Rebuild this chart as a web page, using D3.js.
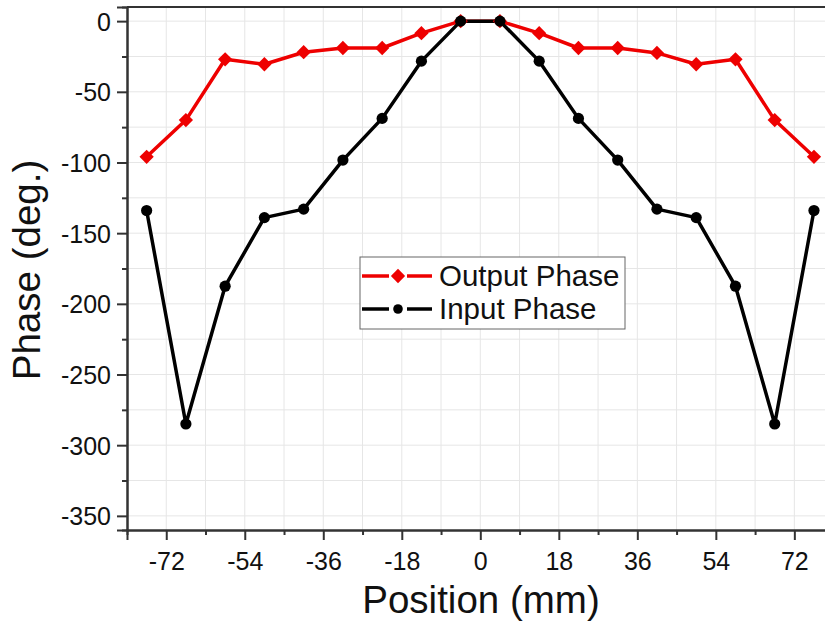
<!DOCTYPE html>
<html>
<head>
<meta charset="utf-8">
<script src="https://cdn.jsdelivr.net/npm/d3@7"></script>
<style>
  html, body { margin: 0; padding: 0; background: #fff; }
  svg { display: block; }
  text { font-family: "Liberation Sans", Arial, sans-serif; fill: #111; }
</style>
</head>
<body>
<svg id="chart" width="825" height="626"></svg>
<script>
// ---- data ----
const positions = [-76.5, -67.5, -58.5, -49.5, -40.5, -31.5, -22.5, -13.5, -4.5,
                   4.5, 13.5, 22.5, 31.5, 40.5, 49.5, 58.5, 67.5, 76.5];
const outputPhase = [-96, -70, -27, -30.5, -22, -19, -19, -8.5, 0,
                     0, -8.5, -19, -19, -22.5, -30.5, -27, -70, -96];
const inputPhase = [-134, -285, -187.5, -139, -133, -98.3, -68.8, -28.3, 0,
                    0, -28.3, -68.8, -98.3, -133, -139, -187.5, -285, -134];
const xTickLabels = [-72, -54, -36, -18, 0, 18, 36, 54, 72];
const xMinorTicks = [-63, -45, -27, -9, 9, 27, 45, 63];
const yTickLabels = [0, -50, -100, -150, -200, -250, -300, -350];
const yMinorTicks = [-25, -75, -125, -175, -225, -275, -325];
const seriesNames = ["Output Phase", "Input Phase"];

// ---- layout ----
const svg = d3.select("#chart");
const L = 127, R = 833.6, T = 7, B = 530;
const x = d3.scaleLinear().domain([-81, 81]).range([L, R]);
const y = d3.scaleLinear().domain([-360, 10]).range([B, T]);
const axisColor = "#333";
const fmt = d => String(d);

// grid
const gridX = d3.range(-72, 82, 9);
const gridY = d3.range(-350, 1, 25);
const grid = svg.append("g");
grid.selectAll("line.gx").data(gridX).join("line")
  .attr("x1", d => x(d)).attr("x2", d => x(d))
  .attr("y1", T).attr("y2", B)
  .attr("stroke", "#e6e6e6").attr("stroke-width", 1);
grid.selectAll("line.gy").data(gridY).join("line")
  .attr("x1", L).attr("x2", R)
  .attr("y1", d => y(d)).attr("y2", d => y(d))
  .attr("stroke", "#e6e6e6").attr("stroke-width", 1);

// top border
svg.append("line").attr("x1", L).attr("x2", R).attr("y1", T).attr("y2", T)
  .attr("stroke", axisColor).attr("stroke-width", 2);

// x axis
const xAxis = svg.append("g").attr("transform", `translate(0,${B})`)
  .call(d3.axisBottom(x).tickValues(xTickLabels).tickSize(10).tickPadding(12).tickFormat(fmt));
const xMinor = svg.append("g").attr("transform", `translate(0,${B})`)
  .call(d3.axisBottom(x).tickValues(xMinorTicks).tickSize(5).tickFormat(""));
// y axis
const yAxis = svg.append("g").attr("transform", `translate(${L},0)`)
  .call(d3.axisLeft(y).tickValues(yTickLabels).tickSize(10).tickPadding(6).tickFormat(fmt));
const yMinor = svg.append("g").attr("transform", `translate(${L},0)`)
  .call(d3.axisLeft(y).tickValues(yMinorTicks).tickSize(5).tickFormat(""));

[xAxis, xMinor, yAxis, yMinor].forEach(g => {
  g.select(".domain").attr("stroke", axisColor).attr("stroke-width", 2);
  g.selectAll(".tick line").attr("stroke", axisColor).attr("stroke-width", 2);
  g.selectAll(".tick text").attr("font-size", 25)
    .attr("font-family", "Liberation Sans, Arial, sans-serif").attr("fill", "#111");
});
xAxis.selectAll(".tick text").attr("dy", "0.72em");
yAxis.selectAll(".tick text").attr("dy", "0.36em");

// axis titles
svg.append("text").attr("x", 481).attr("y", 613).attr("text-anchor", "middle")
  .attr("font-size", 38.5).text("Position (mm)");
svg.append("text").attr("transform", "translate(40,270) rotate(-90)")
  .attr("text-anchor", "middle").attr("font-size", 38.5).text("Phase (deg.)");

// lines
const line = d3.line().x(d => x(d[0])).y(d => y(d[1]));
const outData = positions.map((p, i) => [p, outputPhase[i]]);
const inData = positions.map((p, i) => [p, inputPhase[i]]);
const red = "#ee0000";

svg.append("path").datum(outData).attr("d", line)
  .attr("fill", "none").attr("stroke", red).attr("stroke-width", 3.5).attr("stroke-linejoin", "round");
svg.append("path").datum(inData).attr("d", line)
  .attr("fill", "none").attr("stroke", "#000").attr("stroke-width", 3.5).attr("stroke-linejoin", "round");

const diamond = d3.symbol().type(d3.symbolDiamond2).size(130);
svg.append("g").selectAll("path").data(outData).join("path")
  .attr("d", diamond)
  .attr("transform", d => `translate(${x(d[0])},${y(d[1])})`)
  .attr("fill", red);
svg.append("g").selectAll("circle").data(inData).join("circle")
  .attr("cx", d => x(d[0])).attr("cy", d => y(d[1])).attr("r", 5.6)
  .attr("fill", "#000");

// legend
const lg = svg.append("g");
lg.append("rect").attr("x", 360).attr("y", 257).attr("width", 265).attr("height", 72)
  .attr("fill", "#fff").attr("stroke", "#666").attr("stroke-width", 1);
const rows = [
  { name: seriesNames[0], color: red, type: "diamond", yy: 276 },
  { name: seriesNames[1], color: "#000", type: "circle", yy: 309 }
];
rows.forEach(r => {
  lg.append("line").attr("x1", 362).attr("x2", 389).attr("y1", r.yy).attr("y2", r.yy)
    .attr("stroke", r.color).attr("stroke-width", 3.5);
  lg.append("line").attr("x1", 407).attr("x2", 432).attr("y1", r.yy).attr("y2", r.yy)
    .attr("stroke", r.color).attr("stroke-width", 3.5);
  if (r.type === "diamond") {
    lg.append("path").attr("d", diamond).attr("transform", `translate(398,${r.yy})`).attr("fill", r.color);
  } else {
    lg.append("circle").attr("cx", 398).attr("cy", r.yy).attr("r", 4.8).attr("fill", r.color);
  }
  lg.append("text").attr("x", 439).attr("y", r.yy + 10).attr("font-size", 29.5).text(r.name);
});
</script>
</body>
</html>
